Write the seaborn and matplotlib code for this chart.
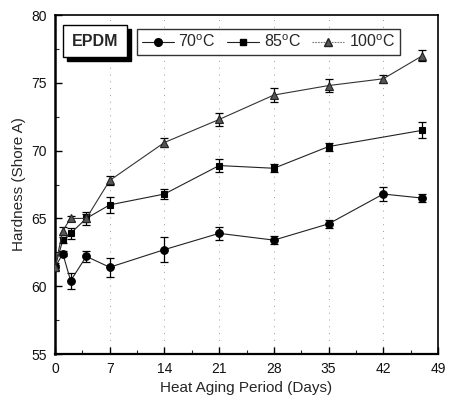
import matplotlib
matplotlib.use("Agg")
import matplotlib.pyplot as plt
import seaborn as sns
import numpy as np
import pandas as pd
from matplotlib.lines import Line2D
from matplotlib.patches import Rectangle
from matplotlib.ticker import MultipleLocator

days_70 = [0, 1, 2, 4, 7, 14, 21, 28, 35, 42, 47]
hard_70 = [61.4, 62.4, 60.4, 62.2, 61.4, 62.7, 63.9, 63.4, 64.6, 66.8, 66.5]
err_70 = [0.3, 0.2, 0.6, 0.4, 0.7, 0.9, 0.5, 0.3, 0.3, 0.5, 0.3]

days_85 = [0, 1, 2, 4, 7, 14, 21, 28, 35, 47]
hard_85 = [61.4, 63.4, 63.9, 65.0, 66.0, 66.8, 68.9, 68.7, 70.3, 71.5]
err_85 = [0.2, 0.2, 0.4, 0.3, 0.6, 0.4, 0.5, 0.3, 0.3, 0.6]

days_100 = [0, 1, 2, 4, 7, 14, 21, 28, 35, 42, 47]
hard_100 = [61.4, 64.1, 65.0, 65.0, 67.8, 70.6, 72.3, 74.1, 74.8, 75.3, 77.0]
err_100 = [0.2, 0.3, 0.2, 0.5, 0.3, 0.3, 0.5, 0.5, 0.5, 0.3, 0.4]

labels = ["70$^{\\rm o}$C", "85$^{\\rm o}$C", "100$^{\\rm o}$C"]
xticks = [0, 7, 14, 21, 28, 35, 42, 49]
yticks = [55, 60, 65, 70, 75, 80]

sns.set_theme(style="white")
plt.rcParams['font.family'] = ['Liberation Sans', 'DejaVu Sans']
plt.rcParams['mathtext.fontset'] = 'custom'
plt.rcParams['mathtext.rm'] = 'Liberation Sans'

fig = plt.figure(figsize=(4.49, 4.07), dpi=100)
ax = fig.add_axes([0.1225, 0.1302, 0.853, 0.8328])

series = [
    (days_70, hard_70, err_70, "o", "black", "black", 5.5, "#222222"),
    (days_85, hard_85, err_85, "s", "black", "black", 5, "#222222"),
    (days_100, hard_100, err_100, "^", "#555555", "#222222", 5.5, "#333333"),
]
handles = []
for (d, h, e, m, fc, ec, ms, lc), lab in zip(series, labels):
    df = pd.DataFrame({"day": d, "hard": h})
    sns.lineplot(data=df, x="day", y="hard", ax=ax, color=lc, lw=0.8,
                 marker=m, markersize=ms, markerfacecolor=fc, markeredgecolor=ec,
                 markeredgewidth=0.8, zorder=3)
    ax.errorbar(d, h, yerr=e, fmt="none", ecolor="black", elinewidth=0.9,
                capsize=3, capthick=0.9, zorder=2)
    handles.append(Line2D([], [], color="#222222" if m != "^" else "#777777", lw=0.8,
                          ls="-" if m != "^" else (0, (1.5, 1)),
                          marker=m, markersize=ms, markerfacecolor=fc,
                          markeredgecolor=ec, label=lab))

ax.set_xlim(0, 49)
ax.set_ylim(55, 80)
ax.set_xticks(xticks)
ax.set_yticks(yticks)
ax.xaxis.set_minor_locator(MultipleLocator(3.5))
ax.yaxis.set_minor_locator(MultipleLocator(2.5))
ax.tick_params(which="major", direction="in", length=5, width=1, labelsize=10,
               bottom=True, left=True, top=False, right=False, colors="black", pad=6)
ax.tick_params(which="minor", direction="in", length=3, width=0.8,
               bottom=True, left=True, top=False, right=False)
ax.tick_params(axis="both", labelcolor="#111111")
for sp in ax.spines.values():
    sp.set_color("black")
    sp.set_linewidth(1.2)
ax.spines["left"].set_linewidth(1.8)
ax.spines["bottom"].set_linewidth(1.6)

for xv in xticks[1:-1]:
    ax.axvline(xv, color="#999999", lw=0.7, ls=(0, (1, 6)), zorder=0)

ax.set_xlabel("Heat Aging Period (Days)", fontsize=11, labelpad=3)
ax.set_ylabel("Hardness (Shore A)", fontsize=11, labelpad=4)

# EPDM box with shadow
ax.add_patch(Rectangle((0.031, 0.864), 0.167, 0.0945, transform=ax.transAxes,
                       facecolor="black", edgecolor="black", zorder=5, clip_on=False))
ax.add_patch(Rectangle((0.021, 0.876), 0.167, 0.0945, transform=ax.transAxes,
                       facecolor="white", edgecolor="black", lw=1.0, zorder=6, clip_on=False))
ax.text(0.1045, 0.923, "EPDM", transform=ax.transAxes, ha="center", va="center",
        fontsize=11.5, fontweight="bold", zorder=7)

leg = ax.legend(handles=handles, ncol=3, loc="center",
                bbox_to_anchor=(0.214, 0.875, 0.687, 0.091), mode="expand",
                borderaxespad=0, frameon=True, fancybox=False, fontsize=11.5,
                handlelength=2.0, handletextpad=0.3, columnspacing=0.6,
                borderpad=0.3)
leg.get_frame().set_edgecolor("black")
leg.get_frame().set_linewidth(1.0)
leg.set_zorder(8)

fig.savefig("out.png", dpi=100)
